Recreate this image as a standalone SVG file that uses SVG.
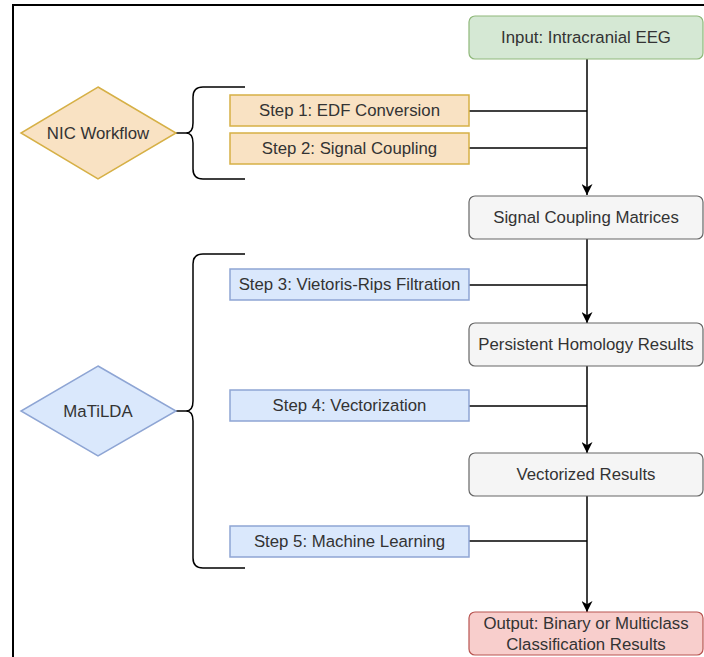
<svg xmlns="http://www.w3.org/2000/svg" width="704" height="657" viewBox="0 0 704 657">
<defs>
<style>
text{font-family:"Liberation Sans",Arial,sans-serif;font-size:16.8px;fill:#333;text-anchor:middle;dominant-baseline:central}
.or{fill:#f9e2c3;stroke:#d6b046;stroke-width:1.5}
.bl{fill:#dae8fc;stroke:#8ea5d4;stroke-width:1.5}
.gr{fill:#f5f5f5;stroke:#666;stroke-width:1.2}
.gn{fill:#d5e8d4;stroke:#8fb87a;stroke-width:1.2}
.rd{fill:#f8cecc;stroke:#b85450;stroke-width:1.2}
.ln{fill:none;stroke:#000;stroke-width:1.5}
</style>
<marker id="ah" viewBox="0 0 10 10" refX="10" refY="5" markerWidth="11" markerHeight="11" markerUnits="userSpaceOnUse" orient="auto">
<path d="M0,0 L10,5 L0,10 L3,5 Z" fill="#000"/>
</marker>
</defs>
<rect x="13" y="5" width="700" height="670" fill="#fff" stroke="#000" stroke-width="2"/>
<g id="connectors">
<path class="ln" d="M587,59 L587,195" marker-end="url(#ah)"/>
<path class="ln" d="M587,239 L587,323" marker-end="url(#ah)"/>
<path class="ln" d="M587,366 L587,453" marker-end="url(#ah)"/>
<path class="ln" d="M587,496 L587,612" marker-end="url(#ah)"/>
<path class="ln" d="M469,111 L587,111"/>
<path class="ln" d="M469,148 L587,148"/>
<path class="ln" d="M469,285 L587,285"/>
<path class="ln" d="M469,406 L587,406"/>
<path class="ln" d="M469,541 L587,541"/>
<path class="ln" d="M176,133 L186,133"/>
<path class="ln" d="M176,411 L186,411"/>
</g>
<g id="brace1">
<path class="ln" d="M245,87 L203,87 Q193,87 193,97 L193,123 Q193,133 186,133 Q193,133 193,143 L193,169 Q193,179 203,179 L245,179"/>
</g>
<g id="brace2">
<path class="ln" d="M245,254 L203,254 Q193,254 193,264 L193,401 Q193,411 186,411 Q193,411 193,421 L193,558 Q193,568 203,568 L245,568"/>
</g>
<g id="nic">
<polygon class="or" points="98,87 176,133 98,179 21,133"/>
<text x="98" y="133">NIC Workflow</text>
</g>
<g id="matilda">
<polygon class="bl" points="98,366 176,411 98,456 21,411"/>
<text x="98" y="411">MaTiLDA</text>
</g>
<g id="step1">
<rect class="or" x="230" y="95" width="239" height="31"/>
<text x="349.5" y="110.5">Step 1: EDF Conversion</text>
</g>
<g id="step2">
<rect class="or" x="230" y="133" width="239" height="31"/>
<text x="349.5" y="148.5">Step 2: Signal Coupling</text>
</g>
<g id="step3">
<rect class="bl" x="230" y="269" width="239" height="31"/>
<text x="349.5" y="284.5">Step 3: Vietoris-Rips Filtration</text>
</g>
<g id="step4">
<rect class="bl" x="230" y="390" width="239" height="31"/>
<text x="349.5" y="405.5">Step 4: Vectorization</text>
</g>
<g id="step5">
<rect class="bl" x="230" y="526" width="239" height="31"/>
<text x="349.5" y="541.5">Step 5: Machine Learning</text>
</g>
<g id="input">
<rect class="gn" x="469" y="16" width="234" height="43" rx="6"/>
<text x="586" y="37.5">Input: Intracranial EEG</text>
</g>
<g id="scm">
<rect class="gr" x="469" y="196" width="234" height="43" rx="6"/>
<text x="586" y="217.5">Signal Coupling Matrices</text>
</g>
<g id="ph">
<rect class="gr" x="469" y="323" width="234" height="43" rx="6"/>
<text x="586" y="344.5">Persistent Homology Results</text>
</g>
<g id="vr">
<rect class="gr" x="469" y="453" width="234" height="43" rx="6"/>
<text x="586" y="474.5">Vectorized Results</text>
</g>
<g id="output">
<rect class="rd" x="469" y="612" width="234" height="43" rx="6"/>
<text x="586" y="623">Output: Binary or Multiclass</text>
<text x="586" y="644.5">Classification Results</text>
</g>
</svg>
